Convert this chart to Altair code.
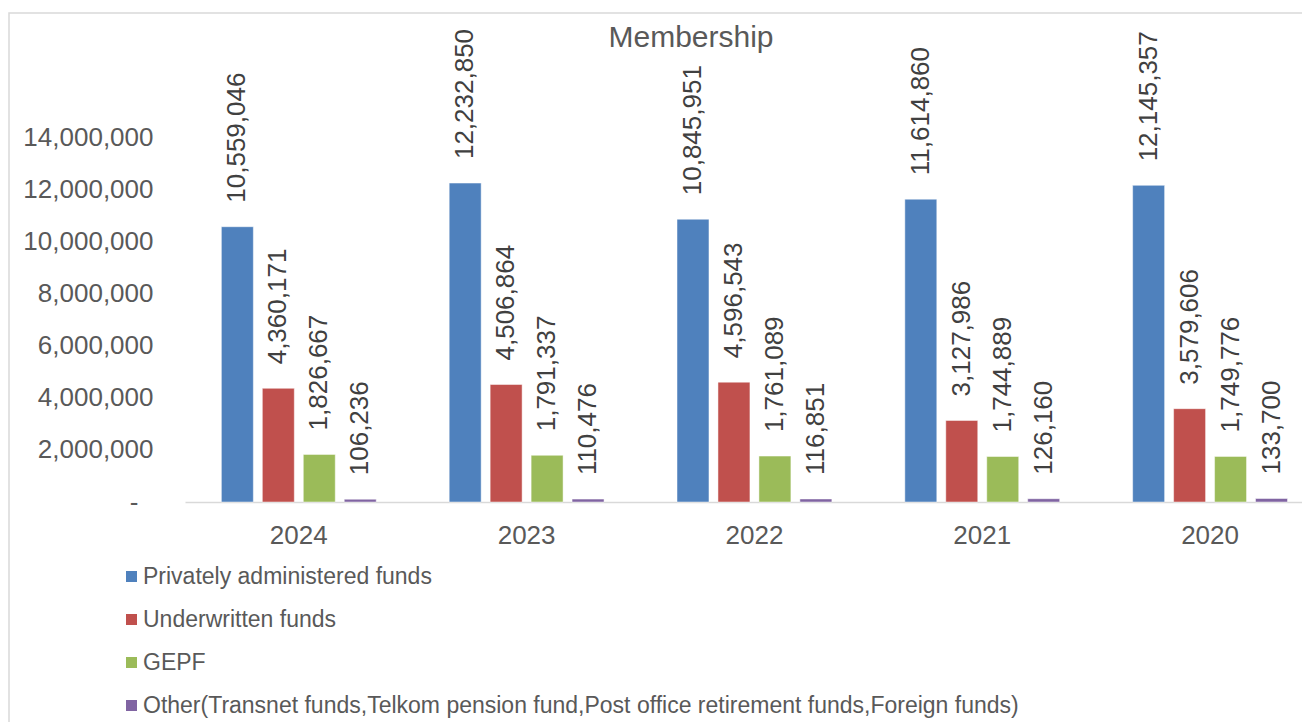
import altair as alt
import pandas as pd

years = ["2024", "2023", "2022", "2021", "2020"]
series = [
    "Privately administered funds",
    "Underwritten funds",
    "GEPF",
    "Other(Transnet funds,Telkom pension fund,Post office retirement funds,Foreign funds)",
]
privately = [10559046, 12232850, 10845951, 11614860, 12145357]
underwritten = [4360171, 4506864, 4596543, 3127986, 3579606]
gepf = [1826667, 1791337, 1761089, 1744889, 1749776]
other = [106236, 110476, 116851, 126160, 133700]
colors = ["#4F81BD", "#C0504D", "#9BBB59", "#8064A2"]
y_ticks = [0, 2000000, 4000000, 6000000, 8000000, 10000000, 12000000, 14000000]

rows = []
for s, vals in zip(series, [privately, underwritten, gepf, other]):
    for y, v in zip(years, vals):
        rows.append({"year": y, "series": s, "value": v})
df = pd.DataFrame(rows)

TXT = "#595959"

x_enc = alt.X(
    "year:N",
    sort=years,
    scale=alt.Scale(paddingInner=0.193, paddingOuter=0.048, align=1),
    axis=alt.Axis(
        title=None,
        labelAngle=0,
        labelFontSize=26,
        labelColor=TXT,
        labelPadding=20,
        ticks=False,
        domainColor="#d9d9d9",
        domainWidth=1.5,
        grid=False,
    ),
)
xo_enc = alt.XOffset(
    "series:N", sort=series, scale=alt.Scale(paddingInner=0.2195, paddingOuter=0.354)
)
y_enc = alt.Y(
    "value:Q",
    scale=alt.Scale(domain=[0, 14000000], nice=False),
    axis=alt.Axis(
        title=None,
        values=y_ticks,
        labelExpr="datum.value == 0 ? '-' : format(datum.value, ',')",
        labelFontSize=26,
        labelColor=TXT,
        labelPadding={"condition": {"test": "datum.value == 0", "value": 47}, "value": 32},
        ticks=False,
        domain=False,
        grid=False,
    ),
)

base = alt.Chart(df)

bars = base.mark_bar(stroke="#ffffff", strokeWidth=0.8, strokeOpacity=0.6).encode(
    x=x_enc,
    xOffset=xo_enc,
    y=y_enc,
    color=alt.Color(
        "series:N",
        sort=series,
        scale=alt.Scale(domain=series, range=colors),
        legend=alt.Legend(
            orient="none",
            legendX=-65,
            legendY=428,
            direction="vertical",
            title=None,
            labelFontSize=23,
            labelColor=TXT,
            symbolType="square",
            symbolSize=121,
            symbolStrokeWidth=0,
            rowPadding=19,
            labelOffset=0,
            padding=0,
            labelLimit=1300,
        ),
    ),
)

labels = base.mark_text(
    angle=270, align="left", baseline="middle", dx=24, fontSize=26, color="#404040"
).encode(
    x=x_enc,
    xOffset=xo_enc,
    y=y_enc,
    text=alt.Text("value:Q", format=","),
)

title = alt.Chart(pd.DataFrame({"t": ["Membership"]})).mark_text(
    fontSize=30, color=TXT, align="center", baseline="alphabetic"
).encode(text="t:N", x=alt.value(506), y=alt.value(-90))

border = alt.Chart(pd.DataFrame({"a": [0]})).mark_rect(
    fillOpacity=0, stroke="#d9d9d9", strokeWidth=1.5
).encode(x=alt.value(-176), x2=alt.value(1500), y=alt.value(-124), y2=alt.value(900))

chart = (
    alt.layer(border, bars, labels, title)
    .properties(
        width=1117,
        height=365,
        autosize=alt.AutoSizeParams(type="none"),
        padding={"left": 177, "top": 129, "right": 0, "bottom": 225},
    )
    .configure(font="Liberation Sans")
    .configure_view(strokeWidth=0, stroke="transparent")
)

chart.save("out.html", embed_options={"renderer": "svg", "actions": False})
